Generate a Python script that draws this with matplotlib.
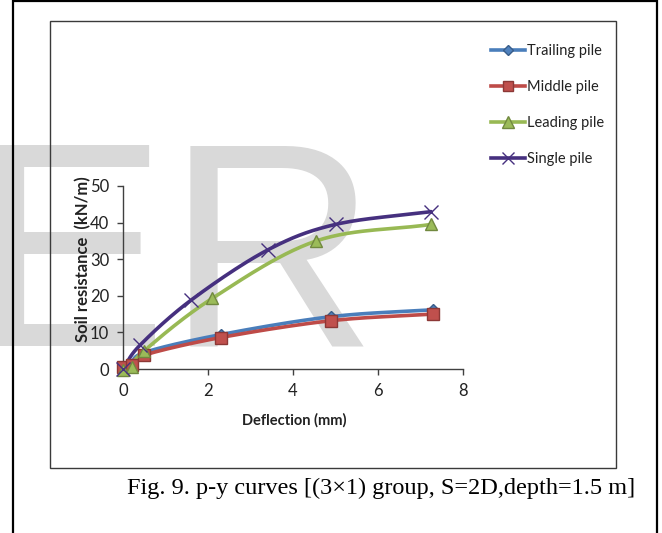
"""p-y curves for a (3x1) pile group, S=2D, depth 1.5 m (Fig. 9)."""
import matplotlib
matplotlib.use("Agg")
import matplotlib.pyplot as plt
import numpy as np
from matplotlib.patches import Rectangle

W, H = 662, 533

# Series: deflection (mm) vs soil resistance (kN/m)
SERIES_NAMES = ["Trailing pile", "Middle pile", "Leading pile", "Single pile"]
trailing_x = [0.0, 0.2, 0.5, 2.3, 4.9, 7.3]
trailing_y = [0.3, 1.2, 4.5, 9.4, 14.3, 16.2]
middle_x = [0.0, 0.2, 0.5, 2.3, 4.9, 7.3]
middle_y = [0.5, 1.0, 3.8, 8.6, 13.2, 15.0]
leading_x = [0.0, 0.2, 0.5, 2.1, 4.55, 7.25]
leading_y = [-0.3, 0.6, 5.0, 19.3, 35.0, 39.5]
single_x = [0.0, 0.4, 1.6, 3.4, 5.0, 7.25]
single_y = [0.0, 6.5, 18.8, 32.5, 39.5, 43.0]

X_TICKS = [0, 2, 4, 6, 8]
Y_TICKS = [0, 10, 20, 30, 40, 50]


def smooth(xs, ys, n=30):
    """Catmull-Rom curve through the points, roughly like Excel's smoothed line."""
    p = np.column_stack([xs, ys]).astype(float)
    p = np.vstack([2 * p[0] - p[1], p, 2 * p[-1] - p[-2]])
    out = []
    t = np.linspace(0, 1, n)[:, None]
    for k in range(1, len(p) - 2):
        p0, p1, p2, p3 = p[k - 1], p[k], p[k + 1], p[k + 2]
        seg = 0.5 * ((2 * p1) + (-p0 + p2) * t
                     + (2 * p0 - 5 * p1 + 4 * p2 - p3) * t ** 2
                     + (-p0 + 3 * p1 - 3 * p2 + p3) * t ** 3)
        out.append(seg if k == 1 else seg[1:])
    out = np.vstack(out)
    return out[:, 0], out[:, 1]


fig = plt.figure(figsize=(W / 100, H / 100), dpi=100)

# watermark letters behind everything
fig.text(-28 / W, 1 - 345 / H, "ER", fontsize=210, family="Liberation Sans",
         color="#d9d9d9", ha="left", va="baseline", zorder=-5)

# outer frame and chart-area frame
fig.patches.append(Rectangle((13 / W, -0.01), (657 - 13) / W, 1 - 1 / H + 0.01,
                             transform=fig.transFigure, fill=False,
                             edgecolor="black", linewidth=1.6, zorder=1))
fig.patches.append(Rectangle((50 / W, 1 - 468 / H), (616 - 50) / W, (468 - 21) / H,
                             transform=fig.transFigure, fill=False,
                             edgecolor="#3a3a3a", linewidth=1.0, zorder=1))

ax = fig.add_axes([123 / W, 1 - 369 / H, (463 - 123) / W, (369 - 186) / H])
ax.set_facecolor("none")
ax.set_zorder(2)

styles = [
    dict(color="#4a7ebb", mfc="#4f81bd", mec="#385d8a", marker="D", ms=6),
    dict(color="#be4b48", mfc="#c0504d", mec="#8c3836", marker="s", ms=8),
    dict(color="#98b954", mfc="#9bbb59", mec="#71893f", marker="^", ms=9),
    dict(color="#46307f", mfc="#46307f", mec="#46307f", marker="x", ms=10),
]
data = [(trailing_x, trailing_y), (middle_x, middle_y),
        (leading_x, leading_y), (single_x, single_y)]

handles = []
for name, (xs, ys), st in zip(SERIES_NAMES, data, styles):
    sx, sy = smooth(xs, ys)
    ax.plot(sx, sy, color=st["color"], lw=2.6, solid_capstyle="round", zorder=3)
    ax.plot(xs, ys, ls="none", marker=st["marker"], ms=st["ms"],
            mfc=st["mfc"], mec=st["mec"], mew=1.0, zorder=4, clip_on=False)
    h, = ax.plot([], [], color=st["color"], lw=2.6, marker=st["marker"],
                 ms=st["ms"] - 1, mfc=st["mfc"], mec=st["mec"], mew=1.0)
    handles.append(h)

ax.set_xlim(0, 8)
ax.set_ylim(0, 50)
ax.set_xticks(X_TICKS)
ax.set_yticks(Y_TICKS)
for s in ["top", "right"]:
    ax.spines[s].set_visible(False)
for s in ["left", "bottom"]:
    ax.spines[s].set_color("#404040")
    ax.spines[s].set_linewidth(1.0)
ax.tick_params(direction="out", length=4, width=1.0, color="#404040",
               labelsize=12, labelcolor="#222222", pad=6)
for lab in ax.get_xticklabels() + ax.get_yticklabels():
    lab.set_family("Lato")

fig.text(294 / W, 1 - 420 / H, "Deflection (mm)", ha="center", va="center",
         fontsize=10.5, fontweight="bold", family="Lato", color="#222222")
fig.text(83 / W, 1 - 259 / H, "Soil resistance  (kN/m)", ha="center", va="center",
         rotation=90, fontsize=12, fontweight="bold", family="Lato",
         color="#222222")

leg = fig.legend(handles, SERIES_NAMES, loc="upper left",
                 bbox_to_anchor=(478 / W, 1 - 31 / H), frameon=False,
                 handlelength=2.3, handletextpad=0.15, labelspacing=1.5,
                 prop={"family": "Lato", "size": 10.5})
for t in leg.get_texts():
    t.set_color("#222222")

fig.text(381 / W, 1 - 488 / H,
         "Fig. 9. p-y curves [(3\u00d71) group, S=2D,depth=1.5 m]",
         ha="center", va="center", fontsize=17.5, family="Liberation Serif",
         color="black")

fig.savefig("out.png", dpi=100)
